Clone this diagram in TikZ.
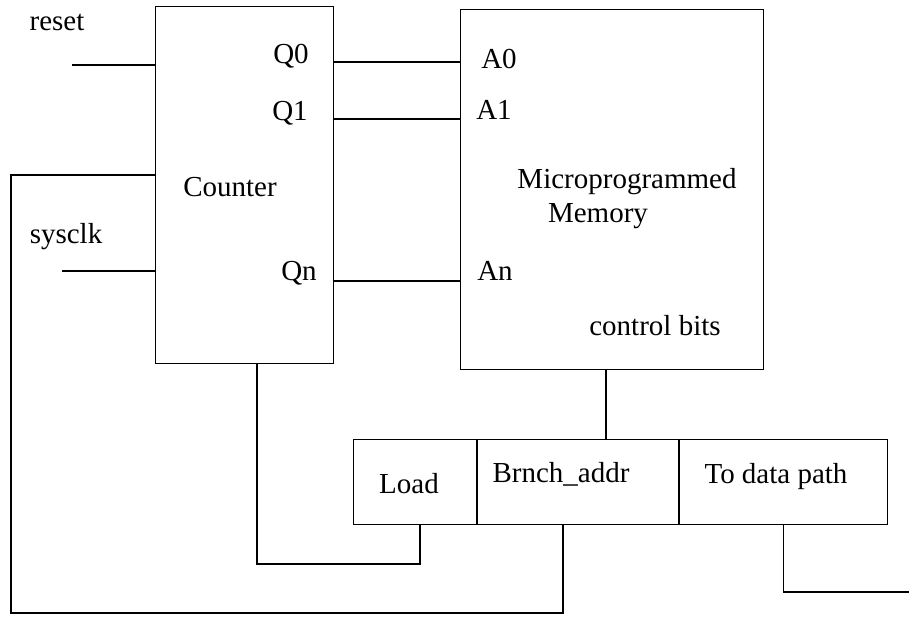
\documentclass[tikz,border=0pt]{standalone}
\usepackage{fontspec}
\setmainfont{Liberation Serif}
\usetikzlibrary{positioning}

\begin{document}
\begin{tikzpicture}[x=1pt,y=-1pt,line width=1.1pt,
    block/.style={draw,rectangle,inner sep=0pt,anchor=north west},
    lbl/.style={anchor=base,inner sep=0pt,font=\fontsize{29}{34}\selectfont}]
    \useasboundingbox (0,0) rectangle (909,616);
    % counter and memory
    \node[block,minimum width=178pt,minimum height=357pt] (cnt) at (155,6) {};
    \node[block,minimum width=303pt,minimum height=360pt] (mem) at (460,9) {};
    % control word
    \node[block,minimum width=123pt,minimum height=85pt] (load) at (353,439) {};
    \node[block,minimum width=201pt,minimum height=85pt,right=0pt of load] (brnch) {};
    \node[block,minimum width=208pt,minimum height=85pt,right=0pt of brnch] (todp) {};
    % inputs
    \coordinate (rst) at (72,65);
    \coordinate (clk) at (62,271);
    \draw (rst) -- (rst -| cnt.west);
    \draw (clk) -- (clk -| cnt.west);
    % address lines
    \foreach \yy in {62,119,281}
      \draw (cnt.east |- 0,\yy) -- (mem.west |- 0,\yy);
    \draw (mem.south -| 606,0) -- (brnch.north -| 606,0);
    % load and branch feedback
    \draw (cnt.south -| 257,0) |- (420,564) -- (420,0 |- load.south);
    \draw (brnch.south -| 563,0) -- (563,613) -| (11,175) -- (cnt.west |- 0,175);
    \draw (todp.south) |- (909,592);
    % labels
    \node[lbl] (rstl) at (57,30) {reset};
    \node[lbl] (clkl) at (66,243) {sysclk};
    \node[lbl] (q0) at (291,63) {Q0};
    \node[lbl] (q1) at (290,120) {Q1};
    \node[lbl] (qn) at (299,280) {Qn};
    \node[lbl] (cntl) at (230,196) {Counter};
    \node[lbl] (a0) at (499,68) {A0};
    \node[lbl] (a1) at (494,119) {A1};
    \node[lbl] (an) at (495,280) {An};
    \node[lbl] (meml) at (627,188) {Microprogrammed};
    \node[lbl] (mem2) at (598,222) {Memory};
    \node[lbl] (ctrl) at (655,335) {control bits};
    \node[lbl] (loadl) at (409,493) {Load};
    \node[lbl] (brnchl) at (561,482) {Brnch\_addr};
    \node[lbl] (todpl) at (776,483) {To data path};
\end{tikzpicture}
\end{document}
